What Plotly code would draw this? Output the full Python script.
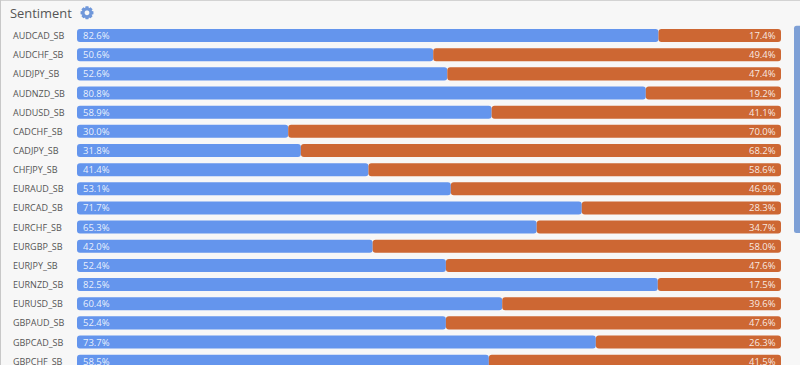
import math
import plotly.graph_objects as go

symbols = ["AUDCAD_SB","AUDCHF_SB","AUDJPY_SB","AUDNZD_SB","AUDUSD_SB","CADCHF_SB","CADJPY_SB","CHFJPY_SB","EURAUD_SB",
           "EURCAD_SB","EURCHF_SB","EURGBP_SB","EURJPY_SB","EURNZD_SB","EURUSD_SB","GBPAUD_SB","GBPCAD_SB","GBPCHF_SB"]
long_pct = [82.6,50.6,52.6,80.8,58.9,30.0,31.8,41.4,53.1,71.7,65.3,42.0,52.4,82.5,60.4,52.4,73.7,58.5]
short_pct = [17.4,49.4,47.4,19.2,41.1,70.0,68.2,58.6,46.9,28.3,34.7,58.0,47.6,17.5,39.6,47.6,26.3,41.5]

W, H = 800, 365
L, R, T = 77, 781, 26.2
BLUE, ORANGE, BG = "#6495ed", "#cd6733", "#f7f7f7"
px = lambda x: (x - L) / (R - L)
py = lambda y: 1 - (y - T) / (H - T)
pt = lambda x, y: f"{px(x):.5f},{py(y):.5f}"

fig = go.Figure()
fig.add_bar(y=symbols, x=[-v for v in long_pct], base=long_pct, orientation="h",
            marker=dict(color=BLUE, cornerradius=3, line_width=0))
fig.add_bar(y=symbols, x=short_pct, base=long_pct, orientation="h",
            marker=dict(color=ORANGE, cornerradius=3, line_width=0))

val_font = dict(family="Open Sans", size=9.5, color="rgba(255,255,255,0.88)")
ann = [dict(xref="paper", yref="y", x=px(11), y=s, text=s, showarrow=False, xanchor="left", yanchor="middle",
            font=dict(family="Open Sans", size=9, color="#555555")) for s in symbols]
ann += [dict(xref="x", yref="y", x=0, y=s, text=f"{v:.1f}%", showarrow=False, xanchor="left", yanchor="middle",
             xshift=4, font=val_font) for s, v in zip(symbols, long_pct)]
ann += [dict(xref="x", yref="y", x=100, y=s, text=f"{v:.1f}%", showarrow=False, xanchor="right", yanchor="middle",
             xshift=-3, font=val_font) for s, v in zip(symbols, short_pct)]
ann.append(dict(xref="paper", yref="paper", x=px(8), y=py(13.5), text="Sentiment", showarrow=False, xanchor="left", yanchor="middle",
                font=dict(family="Open Sans", size=12.9, color="#555555")))

# gear icon
cx, cy, teeth = 87, 13, 8
gear = []
for i in range(teeth):
    a = 2 * math.pi * i / teeth
    step = 2 * math.pi / teeth
    for da, r in [(-0.5, 5.0), (-0.28, 6.6), (0.28, 6.6), (0.5, 5.0)]:
        t = a + da * step
        gear.append(pt(cx + r * math.cos(t), cy + r * math.sin(t)))
gear_path = "M" + " L".join(gear) + " Z"
hole = [pt(cx + 2.4 * math.cos(2 * math.pi * k / 16), cy + 2.4 * math.sin(2 * math.pi * k / 16)) for k in range(16)]
gear_path += " M" + " L".join(hole) + " Z"

scroll = (f"M{pt(800, 26)} L{pt(796.5, 26)} Q{pt(794, 26)} {pt(794, 28.5)} L{pt(794, 230.5)} "
          f"Q{pt(794, 233)} {pt(796.5, 233)} L{pt(800, 233)} Z")

shapes = [
    dict(type="line", xref="paper", yref="paper", x0=px(0), x1=px(W), y0=py(0.5), y1=py(0.5), line=dict(color="#c8c8c8", width=1)),
    dict(type="line", xref="paper", yref="paper", x0=px(0.5), x1=px(0.5), y0=py(0), y1=py(H), line=dict(color="#c8c8c8", width=1)),
    dict(type="path", xref="paper", yref="paper", path=scroll, fillcolor="#7ea0d6", line_width=0),
    dict(type="path", xref="paper", yref="paper", path=gear_path, fillcolor="#6f97da", line_width=0),
]

fig.update_layout(
    width=W, height=H, margin=dict(l=L, r=W - R, t=T, b=0, pad=0), autosize=False,
    paper_bgcolor=BG, plot_bgcolor=BG, barmode="overlay", bargap=0.32, showlegend=False,
    annotations=ann, shapes=shapes,
    xaxis=dict(range=[0, 100], visible=False, fixedrange=True),
    yaxis=dict(type="category", categoryorder="array", categoryarray=symbols, range=[17.2, -0.5], showticklabels=False,
               showgrid=False, zeroline=False, showline=False, ticks="", fixedrange=True),
)
fig.write_html("out.html", config={"displayModeBar": False},
               post_script="document.body.style.margin='0';document.documentElement.style.overflow='hidden';window.dispatchEvent(new Event('resize'));")
